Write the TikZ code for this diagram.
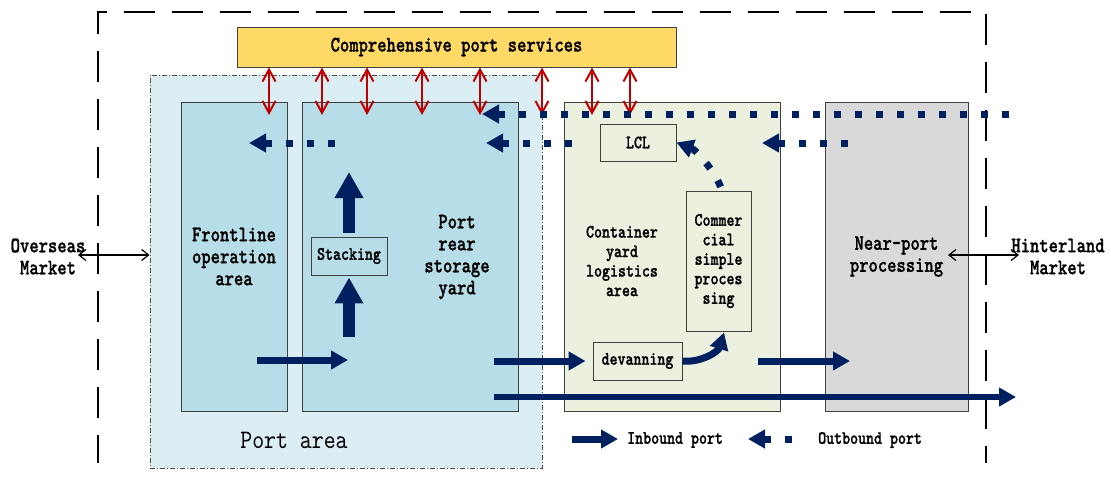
\documentclass[tikz,border=0pt]{standalone}
\usepackage{fontspec}
\newfontfamily\labbold{lmmonolt10-bold.otf}[FakeStretch=0.8, FakeBold=1]
\newfontfamily\labreg{lmmono10-regular.otf}[FakeStretch=0.85]
\usetikzlibrary{arrows.meta}

\definecolor{navyflow}{HTML}{002060}
\definecolor{svcred}{HTML}{C00000}
\definecolor{svcyellow}{HTML}{FFD966}
\definecolor{portzone}{HTML}{DBEEF4}
\definecolor{blueyard}{HTML}{B7DEE8}
\definecolor{greenyard}{HTML}{EBF1DE}
\definecolor{grayproc}{HTML}{D9D9D9}

\newcommand\labbig{\labbold\fontsize{22.2}{22}\selectfont}
\newcommand\labsmall{\labbold\fontsize{19}{19.5}\selectfont}
\newcommand\labport{\labreg\fontsize{26.7}{30}\selectfont}

\tikzset{
  box/.style={draw=black!75, line width=0.9pt, inner sep=0pt},
  zonebox/.style={draw=black!70, line width=0.8pt, fill=portzone,
    dash pattern=on 5pt off 2pt on 1pt off 2pt, inner sep=0pt},
  inarrow/.style={draw=navyflow, line width=7pt, -{Triangle[length=17pt,width=18pt]}},
  outarrow/.style={draw=navyflow, line width=7pt, dash pattern=on 7pt off 14pt,
    {Triangle[length=17pt,width=18pt]}-},
  uparrow/.style={draw=navyflow, line width=12pt, -{Triangle[length=26pt,width=27pt]}},
  svcarrow/.style={draw=svcred, line width=2pt,
    {Straight Barb[length=12pt,width=13pt]}-{Straight Barb[length=12pt,width=13pt]}},
  mktarrow/.style={draw=black, line width=1.2pt,
    {Straight Barb[length=7pt,width=11pt]}-{Straight Barb[length=7pt,width=11pt]}},
}

\begin{document}
\begin{tikzpicture}[x=1pt,y=-1pt]
\useasboundingbox (0,0) rectangle (1111,480);

% outer boundary of the port economy
\draw[line width=1.8pt, dash pattern=on 31pt off 17pt, dash phase=3pt]
  (98,463) -- (98,12) -- (986,12) -- (986,463);

% port area
\node[zonebox, minimum width=392pt, minimum height=393pt] (port) at (346,271.5) {};
\node[font=\labport] (portlbl) at (294,440) {Port area};

% service layer
\node[box, fill=svcyellow, minimum width=439pt, minimum height=40pt, font=\labbig]
  (svc) at (456.5,47) {Comprehensive port services};

% functional areas
\node[box, fill=blueyard, minimum width=106pt, minimum height=309pt, align=center, font=\labbig]
  (front) at (234,256.5) {Frontline\\operation\\area};
\node[box, fill=blueyard, minimum width=216pt, minimum height=309pt] (rear) at (410,256.5) {};
\node[align=center, font=\labbig] (rearlbl) at (457,257) {Port\\rear\\storage\\yard};

\node[box, fill=greenyard, minimum width=216pt, minimum height=309pt] (cy) at (672,256.5) {};
\node[align=center, font=\labsmall] (cylbl) at (622,261) {Container\\yard\\logistics\\area};

\node[box, fill=grayproc, minimum width=143pt, minimum height=309pt, align=center, font=\labbig]
  (near) at (896.5,256.5) {Near-port\\processing};

% inner operations
\node[box, fill=greenyard, minimum width=76pt, minimum height=37pt, font=\labsmall]
  (lcl) at (638,142.5) {LCL};
\node[box, fill=greenyard, minimum width=65pt, minimum height=140pt, align=center, font=\labsmall]
  (comm) at (718.5,261) {Commer\\cial\\simple\\proces\\sing};
\node[box, fill=greenyard, minimum width=89pt, minimum height=38pt, font=\labsmall]
  (dev) at (637.5,361) {devanning};
\node[box, fill=blueyard, minimum width=76pt, minimum height=38pt, font=\labsmall]
  (stack) at (349,256) {Stacking};

% markets
\node[align=center, font=\labbig] (overseas) at (48,256.5) {Overseas\\Market};
\node[align=center, font=\labbig] (hinter) at (1058,256.5) {Hinterland\\Market};
\coordinate (ovsend) at (78,255);
\coordinate (hinA) at (948,255);
\coordinate (hinB) at (1019,255);
\draw[mktarrow] (ovsend) -- (port.west |- ovsend);
\draw[mktarrow] (hinA) -- (hinB);

% service links
\foreach \x in {269,322,367,422,480,542,592,630}
  \draw[svcarrow] (svc.south -| \x,0) -- (\x,115);

% outbound flows
\coordinate (o1tip) at (482,114);  \coordinate (o1end) at (1015,114);
\coordinate (o2tip) at (249,143);  \coordinate (o2end) at (340,143);
\coordinate (o3tip) at (486,143);  \coordinate (o3end) at (576,143);
\coordinate (o4tip) at (762,143);  \coordinate (o4end) at (854,143);
\draw[outarrow] (o1tip) -- (o1end);
\draw[outarrow] (o2tip) -- (o2end);
\draw[outarrow] (o3tip) -- (o3end);
\draw[outarrow] (o4tip) -- (o4end);
\draw[outarrow] (lcl.east) .. controls (696,150) and (716,172) .. ([xshift=3.5pt]comm.north);

% inbound flows
\coordinate (i1s) at (257,360);  \coordinate (i1e) at (348,360);
\coordinate (i2s) at (494,361);
\coordinate (i3s) at (758,361);  \coordinate (i3e) at (850,361);
\coordinate (i4s) at (494,397);  \coordinate (i4e) at (1016,397);
\draw[inarrow] (i1s) -- (i1e);
\draw[inarrow] (i2s) -- ([xshift=-7pt]dev.west);
\draw[inarrow] (i3s) -- (i3e);
\draw[inarrow, line width=6pt] (i4s) -- (i4e);
\draw[inarrow] (dev.east) .. controls (700,363) and (718,352) .. ([xshift=5.5pt,yshift=-1pt]comm.south);

% stacking flow
\coordinate (stkfoot) at (349,337);
\coordinate (stktop) at (349,172);
\draw[uparrow] (stkfoot) -- ([yshift=-2pt]stack.south);
\draw[uparrow] ([yshift=4pt]stack.north) -- (stktop);

% legend
\coordinate (lgi1) at (572,439); \coordinate (lgi2) at (618,439);
\coordinate (lgo1) at (748,439); \coordinate (lgo2) at (796,439);
\draw[inarrow] (lgi1) -- (lgi2);
\node[anchor=west, inner sep=0pt, font=\labsmall] (inleg) at (627,440) {Inbound port};
\draw[outarrow] (lgo1) -- (lgo2);
\node[anchor=west, inner sep=0pt, font=\labsmall] (outleg) at (818,440) {Outbound port};
\end{tikzpicture}
\end{document}
